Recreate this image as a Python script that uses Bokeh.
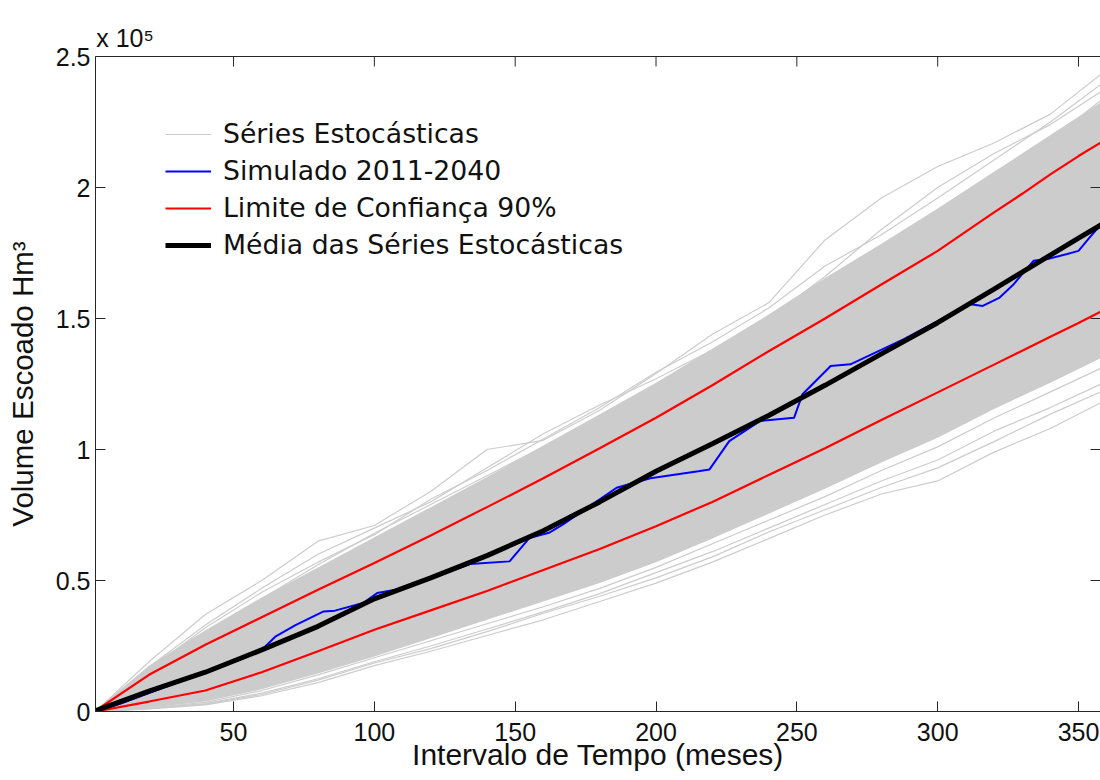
from bokeh.plotting import figure
from bokeh.models import (Range1d, LinearAxis, FixedTicker, CustomJSTickFormatter,
                          Legend, LegendItem)
from bokeh.embed import file_html
from bokeh.resources import INLINE

# ---- data (volumes in Hm³) -------------------------------------------------
# months at which the stochastic envelope and sample series were read
env_months = [1, 20, 40, 60, 80, 100, 120, 140, 160, 180, 200, 220, 240, 260, 280, 300, 320, 340, 360]

# solid core of the stochastic ensemble
core_upper = [400, 17500, 31000, 43500, 55000, 66500, 78000, 89500, 101500, 113500, 125500,
              138500, 151500, 165500, 178500, 192000, 206000, 220000, 234000]
core_lower = [0, 1400, 3800, 8500, 14500, 21000, 28000, 35000, 42000, 49000, 57000,
              66000, 75500, 85000, 95000, 104500, 115500, 125500, 136000]

# individual stochastic series outside the core
series_hi_1 = [0, 19000, 37000, 50000, 65000, 71000, 84000, 100000, 103500, 115000, 129000,
               144000, 156000, 180000, 196000, 208000, 217000, 228000, 245000]
series_hi_2 = [0, 17000, 33000, 47000, 60000, 70000, 80000, 93000, 106000, 117000, 127000,
               138000, 150000, 166000, 184000, 200000, 213000, 224000, 238000]
series_hi_3 = [0, 15500, 30500, 43000, 56000, 68000, 79000, 90000, 101000, 111000, 123500,
               135500, 147000, 159000, 172000, 188000, 202000, 218000, 235000]
series_hi_4 = [0, 16000, 32000, 45500, 57000, 67500, 81000, 92000, 104000, 116000, 129500,
               141000, 154000, 170000, 182000, 196000, 210500, 225000, 241000]
series_lo_1 = [0, 1000, 2500, 6000, 11000, 17500, 23000, 29000, 35000, 42000, 49000,
               57000, 66000, 75000, 83000, 88000, 99000, 108000, 119000]
series_lo_2 = [0, 1200, 3000, 7000, 12500, 19000, 25000, 31500, 38000, 45000, 53000,
               61000, 70000, 79000, 88000, 96000, 107000, 116000, 126000]
series_lo_3 = [0, 1400, 3500, 8000, 14000, 20500, 27000, 33500, 40000, 47000, 55000,
               64000, 73000, 82000, 92000, 101000, 112000, 122000, 132000]
series_lo_4 = [0, 1100, 2800, 6500, 12000, 18500, 24000, 30500, 37500, 44000, 51000,
               59000, 68500, 77000, 85500, 93000, 103000, 113500, 123000]

# 90% confidence limits and ensemble mean
stat_months = [1, 20, 40, 60, 80, 100, 120, 140, 160, 180, 200, 220, 240, 260, 280, 300,
               320, 330, 340, 350, 360]
conf_upper = [300, 14000, 25500, 36000, 46500, 56700, 67200, 78000, 89000, 100500, 112100,
              124500, 137500, 150000, 163000, 175800, 190500, 197600, 205000, 212000, 218500]
conf_lower = [0, 3800, 8000, 15000, 23000, 31200, 38600, 46000, 54000, 62000, 70700,
              80000, 90300, 100500, 111300, 121800, 132400, 137700, 143000, 148300, 153800]
ens_mean = [300, 7800, 15000, 23500, 32500, 43000, 51000, 59500, 69000, 80000, 91700,
            102200, 113000, 124500, 136500, 148400, 161200, 167700, 174200, 180700, 187000]

# simulated 2011-2040 series
sim_months = [1, 10, 20, 30, 45, 55, 61, 65, 72, 82, 86, 96, 101, 111, 122, 134, 148, 155,
              162, 167, 186, 198, 215, 219, 226, 237, 249, 252, 262, 269, 288, 300, 311,
              316, 322, 327, 334, 339, 346, 350, 353, 357.5, 360]
sim_volume = [0, 3000, 7000, 11000, 16800, 21000, 24500, 28700, 33000, 38200, 38500, 41400,
              45200, 47100, 51500, 56300, 57300, 66200, 68200, 71400, 85400, 89000, 91700,
              92400, 103200, 110900, 112100, 121100, 131900, 132500, 142100, 149000, 155500,
              154800, 158000, 163100, 172000, 172700, 174600, 175800, 179700, 185400, 187000]

x_ticks = [50, 100, 150, 200, 250, 300, 350]
y_ticks = [0, 50000, 100000, 150000, 200000, 250000]
y_exponent_text = "x 10⁵"

X_START, X_END = 1, 357.8
Y_START, Y_END = 0, 250000
FRAME_W, FRAME_H = 1005, 655
TICK_PX = 10

# ---- figure ----------------------------------------------------------------
GRAY = "#cccccc"
AXIS = "#262626"
TEXT = "#111111"

p = figure(width=1100, height=780, output_backend="svg", toolbar_location=None,
           x_range=Range1d(X_START, X_END), y_range=Range1d(Y_START, Y_END),
           min_border_left=95, min_border_right=0, min_border_top=56, min_border_bottom=69,
           background_fill_color="white", border_fill_color="white")
p.outline_line_color = None
p.xgrid.visible = False
p.ygrid.visible = False

# ensemble
p.varea(x=env_months, y1=core_lower, y2=core_upper, fill_color=GRAY)
gray_r = None
for s in (series_hi_1, series_hi_2, series_hi_3, series_hi_4,
          series_lo_1, series_lo_2, series_lo_3, series_lo_4):
    gray_r = p.line(env_months, s, line_color=GRAY, line_width=1.2)

blue_r = p.line(sim_months, sim_volume, line_color="#0000ff", line_width=2)
red_r = p.line(stat_months, conf_upper, line_color="#ff0000", line_width=2.2)
p.line(stat_months, conf_lower, line_color="#ff0000", line_width=2.2)
black_r = p.line(stat_months, ens_mean, line_color="black", line_width=5)

# inward ticks on the top and right sides of the box
dy_tick = (Y_END - Y_START) / FRAME_H * TICK_PX
dx_tick = (X_END - X_START) / FRAME_W * TICK_PX
p.segment(x0=x_ticks, y0=[Y_END] * len(x_ticks), x1=x_ticks,
          y1=[Y_END - dy_tick] * len(x_ticks), line_color=AXIS, line_width=1)
p.segment(x0=[X_END] * len(y_ticks), y0=y_ticks, x1=[X_END - dx_tick] * len(y_ticks),
          y1=y_ticks, line_color=AXIS, line_width=1)

# ---- axes ------------------------------------------------------------------
fmt = CustomJSTickFormatter(code="return (tick / 1e5).toString();")

for ax in (p.xaxis[0], p.yaxis[0]):
    ax.major_tick_in = TICK_PX
    ax.major_tick_out = 0
    ax.minor_tick_line_color = None
    ax.major_tick_line_color = AXIS
    ax.axis_line_color = AXIS
    ax.major_label_text_font = "Liberation Sans"
    ax.major_label_text_font_size = "25px"
    ax.major_label_text_color = TEXT
    ax.axis_label_text_font = "Liberation Sans"
    ax.axis_label_text_font_style = "normal"
    ax.axis_label_text_color = TEXT

xa = p.xaxis[0]
xa.ticker = FixedTicker(ticks=x_ticks)
xa.major_label_standoff = 11
xa.axis_label = "Intervalo de Tempo (meses)"
xa.axis_label_text_font_size = "30px"
xa.axis_label_standoff = -6

ya = p.yaxis[0]
ya.ticker = FixedTicker(ticks=y_ticks)
ya.formatter = fmt
ya.major_label_standoff = 5
ya.axis_label = "Volume Escoado Hm³"
ya.axis_label_text_font_size = "29.5px"
ya.axis_label_standoff = 14

# top edge of the box, carrying the y-axis exponent as its only label
exp_pos = 11.5
top = LinearAxis(ticker=FixedTicker(ticks=[exp_pos]),
                 major_label_overrides={exp_pos: y_exponent_text})
top.axis_line_color = AXIS
top.major_tick_line_color = None
top.minor_tick_line_color = None
top.major_tick_in = 0
top.major_tick_out = 0
top.major_label_standoff = 5
top.major_label_text_font = "Liberation Sans"
top.major_label_text_font_size = "25px"
top.major_label_text_color = TEXT
p.add_layout(top, "above")

# ---- legend ----------------------------------------------------------------
legend = Legend(items=[
    LegendItem(label="Séries Estocásticas", renderers=[gray_r]),
    LegendItem(label="Simulado 2011-2040", renderers=[blue_r]),
    LegendItem(label="Limite de Confiança 90%", renderers=[red_r]),
    LegendItem(label="Média das Séries Estocásticas", renderers=[black_r]),
], location=(70, 451))
legend.border_line_color = None
legend.background_fill_alpha = 0
legend.padding = 0
legend.margin = 0
legend.spacing = 6
legend.glyph_width = 46
legend.glyph_height = 30
legend.label_height = 30
legend.label_standoff = 12
legend.label_text_font = "DejaVu Sans"
legend.label_text_font_size = "26.7px"
legend.label_text_color = TEXT
p.add_layout(legend)

open("out.html", "w").write(file_html(p, INLINE))
